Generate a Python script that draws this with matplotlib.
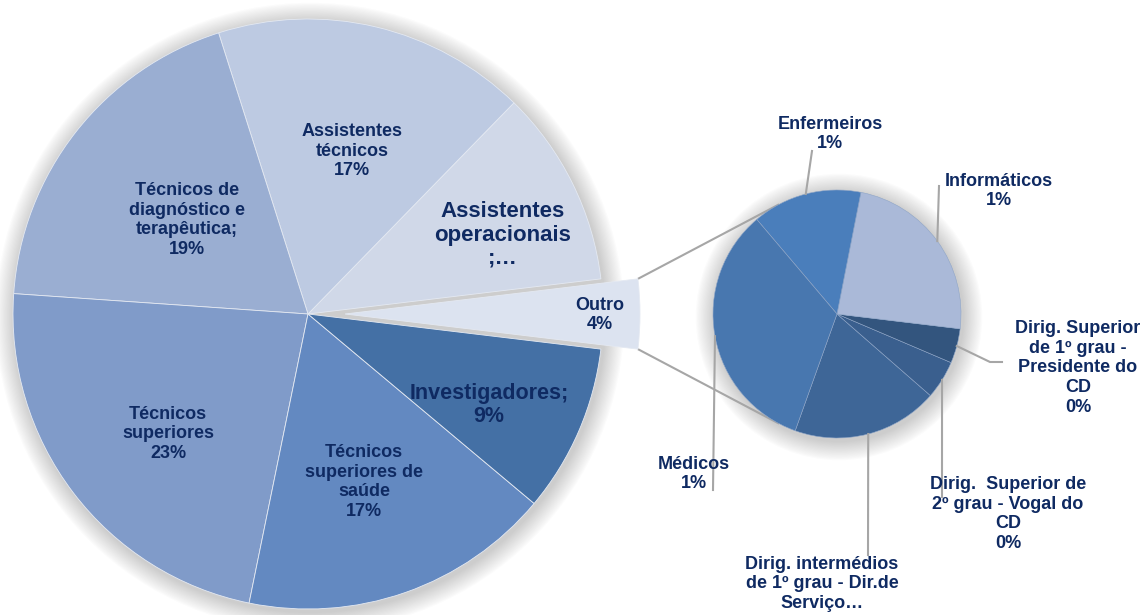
import numpy as np
import matplotlib.pyplot as plt
from matplotlib.patches import Circle

# main pie, counterclockwise starting with the exploded "Outro" slice
main_labels = ["Outro\n4%", "Assistentes\noperacionais\n;…", "Assistentes\ntécnicos\n17%",
               "Técnicos de\ndiagnóstico e\nterapêutica;\n19%", "Técnicos\nsuperiores\n23%",
               "Técnicos\nsuperiores de\nsaúde\n17%", "Investigadores;\n9%"]
main_values = [3.8, 10.8, 17.2, 19.0, 22.9, 17.1, 9.2]

# secondary pie (breakdown of "Outro"), counterclockwise
sec_labels = ["Dirig. intermédios\nde 1º grau - Dir.de\nServiço…",
              "Dirig.  Superior de\n2º grau - Vogal do\nCD\n0%",
              "Dirig. Superior\nde 1º grau -\nPresidente do\nCD\n0%",
              "Informáticos\n1%", "Enfermeiros\n1%", "Médicos\n1%"]
sec_values = [0.76, 0.20, 0.18, 0.95, 0.57, 1.33]

main_colors = ['#DCE3F0', '#D0D8E8', '#BDCAE2', '#9AAED2', '#809BC9', '#6389C1', '#4470A5']
sec_colors = ['#3E6697', '#3A5F8E', '#33557E', '#AAB9D8', '#4A7EBB', '#4877AF']
txt_col = '#0F2A62'
font = 'Liberation Sans'

W, H = 1144, 615
fig = plt.figure(figsize=(W / 100, H / 100), dpi=100)
ax = fig.add_axes([0, 0, 1, 1])

main_c, main_r = (308, 301), 295
sec_c, sec_r = (837, 301), 124


def shadow(cx, cy, r, n=16):
    for i in range(n):
        ax.add_patch(Circle((cx + 2, cy - 3), r + 1.2 * (n - i), color='#7a7a7a',
                            alpha=0.022, lw=0, zorder=0))


shadow(*main_c, main_r)
shadow(*sec_c, sec_r)

explode = [37] + [0] * (len(main_values) - 1)
main_w, _ = ax.pie(main_values, colors=main_colors, center=main_c, radius=main_r,
                   startangle=-main_values[0] * 3.6 / 2, counterclock=True, explode=explode,
                   wedgeprops=dict(edgecolor='#e4e9f2', linewidth=0.6, zorder=2))

sec_w, _ = ax.pie(sec_values, colors=sec_colors, center=sec_c, radius=sec_r,
                  startangle=-109.7, counterclock=True,
                  wedgeprops=dict(edgecolor='#8fa6c8', linewidth=0.4, zorder=3))

# connector lines from the exploded slice to the secondary pie (tangents)
ow = main_w[0]
for th, sign in [(ow.theta2, -1), (ow.theta1, 1)]:
    px = ow.center[0] + ow.r * np.cos(np.radians(th))
    py = ow.center[1] + ow.r * np.sin(np.radians(th))
    dx, dy = px - sec_c[0], py - sec_c[1]
    d = np.hypot(dx, dy)
    phi = np.arctan2(dy, dx) + sign * np.arccos(sec_r / d)
    tx, ty = sec_c[0] + sec_r * np.cos(phi), sec_c[1] + sec_r * np.sin(phi)
    ax.plot([px, tx], [py, ty], color='#a6a6a6', lw=1.5, zorder=1, solid_capstyle='butt')

# main labels
main_pos = [(600, 315), (503, 235), (352, 151), (187, 220), (168, 434), (364, 482), (489, 405)]
main_fs = [13, 16, 13, 13, 13, 13, 15.5]
for lab, (x, y), fs in zip(main_labels, main_pos, main_fs):
    ax.text(x, H - y, lab, ha='center', va='center', fontsize=fs, color=txt_col,
            family=font, weight='bold', linespacing=1.15 if fs > 14 else 1.2, zorder=5)

# secondary labels with leader lines from wedge mid-angles
sec_pos = [(822, 584), (1008, 514), (1078, 368), (999, 191), (830, 134), (694, 474)]
leader_pts = [[(868, 60)], [(942, 118)], [(990, 253), (1002, 253)], [(939, 429)],
              [(812, 464)], [(713, 125)]]
for w, lab, (x, y), pts in zip(sec_w, sec_labels, sec_pos, leader_pts):
    tm = np.radians((w.theta1 + w.theta2) / 2)
    ax0 = sec_c[0] + sec_r * np.cos(tm)
    ay0 = sec_c[1] + sec_r * np.sin(tm)
    xs = [ax0] + [p[0] for p in pts]
    ys = [ay0] + [p[1] for p in pts]
    ax.plot(xs, ys, color='#a6a6a6', lw=1.5, zorder=4)
    ax.text(x, H - y, lab, ha='center', va='center', fontsize=13, color=txt_col,
            family=font, weight='bold', zorder=5)

ax.set_xlim(0, W)
ax.set_ylim(0, H)
ax.set_aspect('equal')
ax.axis('off')
fig.savefig('out.png', dpi=100)
